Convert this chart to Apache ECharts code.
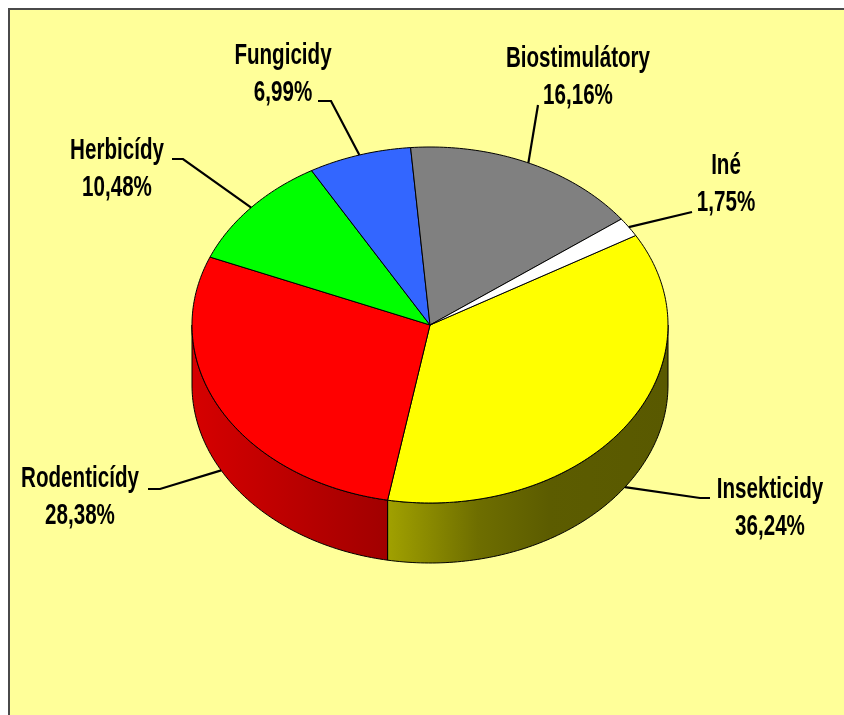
<!DOCTYPE html>
<html>
<head>
<meta charset="utf-8">
<script src="https://cdn.jsdelivr.net/npm/echarts@6/dist/echarts.min.js"></script>
<style>
html, body { margin: 0; padding: 0; background: #fff; }
#main { width: 844px; height: 715px; }
</style>
</head>
<body>
<div id="main"></div>
<script>
// shares in %, clockwise from the start angle
const categories = ['Insekticidy', 'Rodenticídy', 'Herbicídy', 'Fungicidy', 'Biostimulátory', 'Iné'];
const shares = [36.24, 28.38, 10.48, 6.99, 16.16, 1.75];
const colors = ['#FFFF00', '#FF0000', '#00FF00', '#3366FF', '#808080', '#FFFFFF'];

// where each label sits (centre of first line) and where its leader ends
const labelPos = [
  { text: [770, 490], end: [710, 498], stub: -10 },
  { text: [80, 479], end: [148, 489], stub: 12 },
  { text: [117, 151], end: [172, 159], stub: 11 },
  { text: [283, 56], end: [318, 101], stub: 13 },
  { text: [578, 59], end: [538, 105], stub: 0 },
  { text: [726, 166], end: [692, 212], stub: 0 }
];

const pie = { cx: 430, cy: 325, rx: 238, ry: 178, depth: 60, startAngle: 30.2 };
const shade = [[0, 0.84], [0.41, 0.63], [0.6, 0.43], [0.75, 0.36], [1, 0.35]];

const total = shares.reduce((a, b) => a + b, 0);
const starts = [];
const ends = [];
let acc = 0;
shares.forEach(v => {
  starts.push(pie.startAngle - acc / total * 360);
  acc += v;
  ends.push(pie.startAngle - acc / total * 360);
});

function pt(a, dy) {
  const r = a * Math.PI / 180;
  return [pie.cx + pie.rx * Math.cos(r), pie.cy - pie.ry * Math.sin(r) + (dy || 0)];
}

function arc(a0, a1, dy) {
  const n = Math.max(2, Math.ceil(Math.abs(a1 - a0)));
  const pts = [];
  for (let i = 0; i <= n; i++) pts.push(pt(a0 + (a1 - a0) * i / n, dy));
  return pts;
}

function sideFill(hex) {
  const c = [1, 3, 5].map(k => parseInt(hex.substr(k, 2), 16));
  const stops = shade.map(s => ({
    offset: s[0],
    color: 'rgb(' + c.map(v => Math.round(v * s[1])).join(',') + ')'
  }));
  return new echarts.graphic.LinearGradient(pie.cx - pie.rx, 0, pie.cx + pie.rx, 0, stops, true);
}

function fmt(v) {
  return v.toFixed(2).replace('.', ',') + '%';
}

const textStyle = {
  font: 'bold 29px "Liberation Sans", Arial, sans-serif',
  fill: '#000',
  align: 'center',
  verticalAlign: 'middle'
};

function renderItem(params, api) {
  const i = params.dataIndex;
  const hi = starts[i];
  const lo = ends[i];
  const children = [];

  // front side wall (lower half of the ellipse)
  [-1, 0, 1].forEach(k => {
    const s = Math.max(lo, -180 + 360 * k);
    const e = Math.min(hi, 360 * k);
    if (s < e) {
      children.push({
        type: 'polygon',
        shape: { points: arc(s, e, 0).concat(arc(e, s, pie.depth)) },
        style: { fill: sideFill(colors[i]), stroke: '#000', lineWidth: 1 }
      });
    }
  });

  // top face
  children.push({
    type: 'polygon',
    shape: { points: [[pie.cx, pie.cy]].concat(arc(hi, lo, 0)) },
    style: { fill: colors[i], stroke: '#000', lineWidth: 1 }
  });

  // leader line
  const mid = (hi + lo) / 2;
  const front = Math.sin(mid * Math.PI / 180) < 0;
  const anchor = pt(mid, front ? pie.depth : 0);
  const lp = labelPos[i];
  children.push({
    type: 'polyline',
    z2: 10,
    shape: { points: [anchor, [lp.end[0] + lp.stub, lp.end[1]], lp.end] },
    style: { stroke: '#000', lineWidth: 2.2, fill: null }
  });

  children.push({
    type: 'text', z2: 10, x: lp.text[0], y: lp.text[1], scaleX: 0.71,
    style: Object.assign({ text: categories[i] }, textStyle)
  });
  children.push({
    type: 'text', z2: 10, x: lp.text[0], y: lp.text[1] + 37, scaleX: 0.71,
    style: Object.assign({ text: fmt(api.value(0)) }, textStyle)
  });

  return { type: 'group', children: children };
}

const chart = echarts.init(document.getElementById('main'));

chart.setOption({
  backgroundColor: '#ffffff',
  animation: false,
  graphic: [{
    type: 'rect',
    z: 0,
    shape: { x: 9, y: 9, width: 900, height: 800 },
    style: { fill: '#FFFF99', stroke: '#4a4a4a', lineWidth: 2 }
  }],
  series: [{
    type: 'custom',
    coordinateSystem: 'none',
    z: 2,
    silent: true,
    renderItem: renderItem,
    data: shares.map((v, i) => ({ name: categories[i], value: v }))
  }]
});
</script>
</body>
</html>
